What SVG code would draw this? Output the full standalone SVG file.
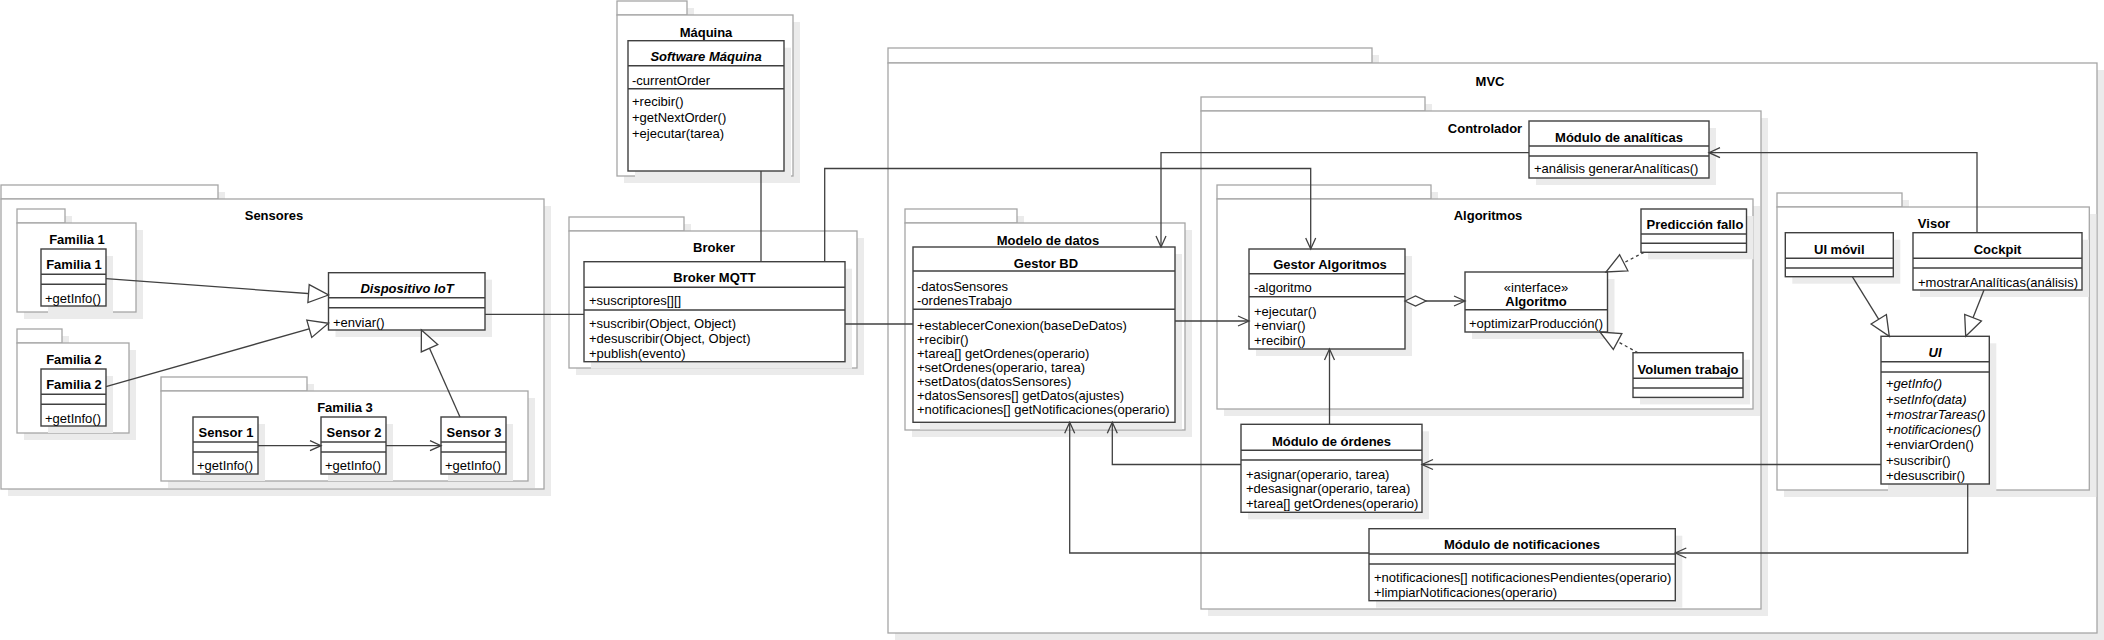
<svg xmlns="http://www.w3.org/2000/svg" width="2104" height="640" viewBox="0 0 2104 640">
<style>
.pkg{fill:#fff;stroke:#a6a6a6;stroke-width:1.3}
.cls{fill:#fff;stroke:#404040;stroke-width:1.4}
.dv{stroke:#404040;stroke-width:1.4}
.sh{fill:#ebebeb}
text{font-family:"Liberation Sans",Arial,sans-serif;font-size:13px;fill:#000}
.b{font-weight:bold}
.c{text-anchor:middle}
.i{font-style:italic}
.e{fill:none;stroke:#404040;stroke-width:1.3}
.d{stroke-dasharray:3 3}
</style>
<defs>
<marker id="gen" markerUnits="userSpaceOnUse" markerWidth="22" markerHeight="20" refX="20" refY="9" orient="auto" overflow="visible">
<path d="M0,0 L20,9 L0,18 Z" fill="#fff" stroke="#404040" stroke-width="1.3" stroke-dasharray="none"/>
</marker>
<marker id="open" markerUnits="userSpaceOnUse" markerWidth="12" markerHeight="12" refX="11" refY="5" orient="auto" overflow="visible">
<path d="M0,0 L11,5 L0,10" fill="none" stroke="#404040" stroke-width="1.3"/>
</marker>
<marker id="dia" markerUnits="userSpaceOnUse" markerWidth="22" markerHeight="12" refX="0" refY="5" orient="auto" overflow="visible">
<path d="M0,5 L10.5,0 L21,5 L10.5,10 Z" fill="#fff" stroke="#404040" stroke-width="1.3"/>
</marker>
</defs>

<g id="pkg-sensores">
<rect class="sh" x="8" y="192" width="217" height="14"/><rect class="sh" x="8" y="206" width="543" height="290"/>
<rect class="pkg" x="1" y="185" width="217" height="14"/><rect class="pkg" x="1" y="199" width="543" height="290"/>
<text class="b c" x="274" y="220">Sensores</text>
<g id="pkg-familia1">
<rect class="sh" x="24" y="216" width="48" height="14"/><rect class="sh" x="24" y="230" width="119" height="89"/>
<rect class="pkg" x="17" y="209" width="48" height="14"/><rect class="pkg" x="17" y="223" width="119" height="89"/>
<text class="b c" x="77" y="244">Familia 1</text>
<g id="familia1">
<rect class="sh" x="48" y="256" width="65" height="57"/>
<rect class="cls" x="41" y="249" width="65" height="57"/>
<line class="dv" x1="41" y1="274.3" x2="106" y2="274.3"/><line class="dv" x1="41" y1="284.3" x2="106" y2="284.3"/>
<text class="b c" x="74" y="269">Familia 1</text>
<text x="45" y="302.5">+getInfo()</text>
</g>
</g>
<g id="pkg-familia2">
<rect class="sh" x="24" y="336" width="45" height="14"/><rect class="sh" x="24" y="350" width="112" height="90"/>
<rect class="pkg" x="17" y="329" width="45" height="14"/><rect class="pkg" x="17" y="343" width="112" height="90"/>
<text class="b c" x="74" y="364">Familia 2</text>
<g id="familia2">
<rect class="sh" x="48" y="376" width="65" height="57"/>
<rect class="cls" x="41" y="369" width="65" height="57"/>
<line class="dv" x1="41" y1="394.3" x2="106" y2="394.3"/><line class="dv" x1="41" y1="404.3" x2="106" y2="404.3"/>
<text class="b c" x="74" y="388.5">Familia 2</text>
<text x="45" y="422.5">+getInfo()</text>
</g>
</g>
<g id="pkg-familia3">
<rect class="sh" x="168" y="384" width="146" height="14"/><rect class="sh" x="168" y="398" width="367" height="90"/>
<rect class="pkg" x="161" y="377" width="146" height="14"/><rect class="pkg" x="161" y="391" width="367" height="90"/>
<text class="b c" x="345" y="412">Familia 3</text>
<g id="sensor1">
<rect class="sh" x="200" y="424" width="65" height="57"/>
<rect class="cls" x="193" y="417" width="65" height="57"/>
<line class="dv" x1="193" y1="442" x2="258" y2="442"/><line class="dv" x1="193" y1="452" x2="258" y2="452"/>
<text class="b c" x="226" y="437">Sensor 1</text>
<text x="197" y="470">+getInfo()</text>
</g>
<g id="sensor2">
<rect class="sh" x="328" y="424" width="65" height="57"/>
<rect class="cls" x="321" y="417" width="65" height="57"/>
<line class="dv" x1="321" y1="442" x2="386" y2="442"/><line class="dv" x1="321" y1="452" x2="386" y2="452"/>
<text class="b c" x="354" y="437">Sensor 2</text>
<text x="325" y="470">+getInfo()</text>
</g>
<g id="sensor3">
<rect class="sh" x="448" y="424" width="65" height="57"/>
<rect class="cls" x="441" y="417" width="65" height="57"/>
<line class="dv" x1="441" y1="442" x2="506" y2="442"/><line class="dv" x1="441" y1="452" x2="506" y2="452"/>
<text class="b c" x="474" y="437">Sensor 3</text>
<text x="445" y="470">+getInfo()</text>
</g>
</g>
<g id="dispositivo-iot">
<rect class="sh" x="335.5" y="279.7" width="156.5" height="57.3"/>
<rect class="cls" x="328.5" y="272.7" width="156.5" height="57.3"/>
<line class="dv" x1="328.5" y1="297.7" x2="485" y2="297.7"/><line class="dv" x1="328.5" y1="307.7" x2="485" y2="307.7"/>
<text class="b c i" x="407" y="293">Dispositivo IoT</text>
<text x="333" y="326.5">+enviar()</text>
</g>
</g>

<g id="pkg-maquina">
<rect class="sh" x="624" y="8" width="70" height="14"/><rect class="sh" x="624" y="22" width="176" height="161"/>
<rect class="pkg" x="617" y="1" width="70" height="14"/><rect class="pkg" x="617" y="15" width="176" height="161"/>
<text class="b c" x="706" y="36.5">Máquina</text>
<g id="software-maquina">
<rect class="sh" x="635" y="47.7" width="156" height="130.3"/>
<rect class="cls" x="628" y="40.7" width="156" height="130.3"/>
<line class="dv" x1="628" y1="65.7" x2="784" y2="65.7"/><line class="dv" x1="628" y1="88.7" x2="784" y2="88.7"/>
<text class="b c i" x="706" y="61">Software Máquina</text>
<text x="632" y="84.5">-currentOrder</text>
<text x="632" y="106">+recibir()</text>
<text x="632" y="122">+getNextOrder()</text>
<text x="632" y="138">+ejecutar(tarea)</text>
</g>
</g>

<g id="pkg-broker">
<rect class="sh" x="576" y="224" width="115" height="14"/><rect class="sh" x="576" y="238" width="288" height="137"/>
<rect class="pkg" x="569" y="217" width="115" height="14"/><rect class="pkg" x="569" y="231" width="288" height="137"/>
<text class="b c" x="714" y="252">Broker</text>
<g id="broker-mqtt">
<rect class="sh" x="591" y="268.7" width="261" height="100"/>
<rect class="cls" x="584" y="261.7" width="261" height="100"/>
<line class="dv" x1="584" y1="287.3" x2="845" y2="287.3"/><line class="dv" x1="584" y1="310" x2="845" y2="310"/>
<text class="b c" x="714.5" y="282">Broker MQTT</text>
<text x="589" y="305">+suscriptores[][]</text>
<text x="589" y="327.5">+suscribir(Object, Object)</text>
<text x="589" y="342.5">+desuscribir(Object, Object)</text>
<text x="589" y="357.5">+publish(evento)</text>
</g>
</g>

<g id="pkg-mvc">
<rect class="sh" x="895" y="55" width="484" height="15"/><rect class="sh" x="895" y="70" width="1209" height="570"/>
<rect class="pkg" x="888" y="48" width="484" height="15"/><rect class="pkg" x="888" y="63" width="1209" height="570"/>
<text class="b c" x="1490" y="85.5">MVC</text>

<g id="pkg-modelo-datos">
<rect class="sh" x="912" y="216" width="112" height="14"/><rect class="sh" x="912" y="230" width="280" height="207"/>
<rect class="pkg" x="905" y="209" width="112" height="14"/><rect class="pkg" x="905" y="223" width="280" height="207"/>
<text class="b c" x="1048" y="244.5">Modelo de datos</text>
<g id="gestor-bd">
<rect class="sh" x="920" y="254" width="262" height="175.3"/>
<rect class="cls" x="913" y="247" width="262" height="175.3"/>
<line class="dv" x1="913" y1="271" x2="1175" y2="271"/><line class="dv" x1="913" y1="309.3" x2="1175" y2="309.3"/>
<text class="b c" x="1046" y="268">Gestor BD</text>
<text x="917" y="290.5">-datosSensores</text>
<text x="917" y="304.5">-ordenesTrabajo</text>
<text x="917" y="329.8">+establecerConexion(baseDeDatos)</text>
<text x="917" y="343.9">+recibir()</text>
<text x="917" y="358">+tarea[] getOrdenes(operario)</text>
<text x="917" y="372.1">+setOrdenes(operario, tarea)</text>
<text x="917" y="386.2">+setDatos(datosSensores)</text>
<text x="917" y="400.3">+datosSensores[] getDatos(ajustes)</text>
<text x="917" y="414.4">+notificaciones[] getNotificaciones(operario)</text>
</g>
</g>

<g id="pkg-controlador">
<rect class="sh" x="1208" y="104" width="224" height="14"/><rect class="sh" x="1208" y="118" width="560" height="498"/>
<rect class="pkg" x="1201" y="97" width="224" height="14"/><rect class="pkg" x="1201" y="111" width="560" height="498"/>
<text class="b c" x="1485" y="133">Controlador</text>
<g id="modulo-analiticas">
<rect class="sh" x="1536" y="128" width="180" height="57"/>
<rect class="cls" x="1529" y="121" width="180" height="57"/>
<line class="dv" x1="1529" y1="146" x2="1709" y2="146"/><line class="dv" x1="1529" y1="156" x2="1709" y2="156"/>
<text class="b c" x="1619" y="141.8">Módulo de analíticas</text>
<text x="1534" y="172.5">+análisis generarAnalíticas()</text>
</g>
<g id="pkg-algoritmos">
<rect class="sh" x="1224" y="192" width="214" height="14"/><rect class="sh" x="1224" y="206" width="536" height="210"/>
<rect class="pkg" x="1217" y="185" width="214" height="14"/><rect class="pkg" x="1217" y="199" width="536" height="210"/>
<text class="b c" x="1488" y="220">Algoritmos</text>
<g id="gestor-algoritmos">
<rect class="sh" x="1256" y="256" width="156" height="100"/>
<rect class="cls" x="1249" y="249" width="156" height="100"/>
<line class="dv" x1="1249" y1="273.7" x2="1405" y2="273.7"/><line class="dv" x1="1249" y1="296.7" x2="1405" y2="296.7"/>
<text class="b c" x="1330" y="269">Gestor Algoritmos</text>
<text x="1254" y="292">-algoritmo</text>
<text x="1254" y="316">+ejecutar()</text>
<text x="1254" y="330.3">+enviar()</text>
<text x="1254" y="344.6">+recibir()</text>
</g>
<g id="algoritmo">
<rect class="sh" x="1472" y="279" width="142.5" height="60"/>
<rect class="cls" x="1465" y="272" width="142.5" height="60"/>
<line class="dv" x1="1465" y1="309.7" x2="1607.5" y2="309.7"/>
<text class="c" x="1536" y="291.5">«interface»</text>
<text class="b c" x="1536" y="305.5">Algoritmo</text>
<text x="1469" y="328">+optimizarProducción()</text>
</g>
<g id="prediccion-fallo">
<rect class="sh" x="1648" y="216" width="105.5" height="43.3"/>
<rect class="cls" x="1641" y="209" width="105.5" height="43.3"/>
<line class="dv" x1="1641" y1="234" x2="1746.5" y2="234"/><line class="dv" x1="1641" y1="243.3" x2="1746.5" y2="243.3"/>
<text class="b c" x="1695" y="229">Predicción fallo</text>
</g>
<g id="volumen-trabajo">
<rect class="sh" x="1640" y="359.7" width="110" height="44.7"/>
<rect class="cls" x="1633" y="352.7" width="110" height="44.7"/>
<line class="dv" x1="1633" y1="378.3" x2="1743" y2="378.3"/><line class="dv" x1="1633" y1="388" x2="1743" y2="388"/>
<text class="b c" x="1688" y="373.5">Volumen trabajo</text>
</g>
</g>
<g id="modulo-ordenes">
<rect class="sh" x="1248" y="431.3" width="181" height="88"/>
<rect class="cls" x="1241" y="424.3" width="181" height="88"/>
<line class="dv" x1="1241" y1="450.3" x2="1422" y2="450.3"/><line class="dv" x1="1241" y1="460" x2="1422" y2="460"/>
<text class="b c" x="1331.5" y="445.5">Módulo de órdenes</text>
<text x="1246" y="478.5">+asignar(operario, tarea)</text>
<text x="1246" y="493.2">+desasignar(operario, tarea)</text>
<text x="1246" y="507.8">+tarea[] getOrdenes(operario)</text>
</g>
<g id="modulo-notificaciones">
<rect class="sh" x="1376" y="535.7" width="306.3" height="72"/>
<rect class="cls" x="1369" y="528.7" width="306.3" height="72"/>
<line class="dv" x1="1369" y1="554" x2="1675.3" y2="554"/><line class="dv" x1="1369" y1="564" x2="1675.3" y2="564"/>
<text class="b c" x="1522" y="548.8">Módulo de notificaciones</text>
<text x="1374" y="582.2">+notificaciones[] notificacionesPendientes(operario)</text>
<text x="1374" y="596.8">+limpiarNotificaciones(operario)</text>
</g>
</g>

<g id="pkg-visor">
<rect class="sh" x="1784" y="200" width="125" height="14"/><rect class="sh" x="1784" y="214" width="312.3" height="283"/>
<rect class="pkg" x="1777" y="193" width="125" height="14"/><rect class="pkg" x="1777" y="207" width="312.3" height="283"/>
<text class="b c" x="1934" y="228.2">Visor</text>
<g id="ui-movil">
<rect class="sh" x="1792.3" y="239.7" width="108" height="44"/>
<rect class="cls" x="1785.3" y="232.7" width="108" height="44"/>
<line class="dv" x1="1785.3" y1="258.3" x2="1893.3" y2="258.3"/><line class="dv" x1="1785.3" y1="268" x2="1893.3" y2="268"/>
<text class="b c" x="1839.3" y="253.5">UI móvil</text>
</g>
<g id="cockpit">
<rect class="sh" x="1920" y="239.7" width="169" height="57.3"/>
<rect class="cls" x="1913" y="232.7" width="169" height="57.3"/>
<line class="dv" x1="1913" y1="258.3" x2="2082" y2="258.3"/><line class="dv" x1="1913" y1="268" x2="2082" y2="268"/>
<text class="b c" x="1997.5" y="253.5">Cockpit</text>
<text x="1918" y="286.5">+mostrarAnalíticas(análisis)</text>
</g>
<g id="ui">
<rect class="sh" x="1888" y="343.3" width="108.3" height="147.7"/>
<rect class="cls" x="1881" y="336.3" width="108.3" height="147.7"/>
<line class="dv" x1="1881" y1="361.7" x2="1989.3" y2="361.7"/><line class="dv" x1="1881" y1="372" x2="1989.3" y2="372"/>
<text class="b c i" x="1935" y="357.2">UI</text>
<text x="1886" y="388.2">+<tspan class="i">getInfo()</tspan></text>
<text x="1886" y="403.5">+<tspan class="i">setInfo(data)</tspan></text>
<text x="1886" y="418.8">+<tspan class="i">mostrarTareas()</tspan></text>
<text x="1886" y="434.1">+<tspan class="i">notificaciones()</tspan></text>
<text x="1886" y="449.4">+enviarOrden()</text>
<text x="1886" y="464.7">+suscribir()</text>
<text x="1886" y="480">+desuscribir()</text>
</g>
</g>
</g>

<g id="connectors">
<path class="e" d="M106,278.7 L328.5,295" marker-end="url(#gen)"/>
<path class="e" d="M106,386.7 L328.5,323.3" marker-end="url(#gen)"/>
<path class="e" d="M460,417 L421.4,330" marker-end="url(#gen)"/>
<path class="e" d="M258,445.7 L321,445.7" marker-end="url(#open)"/>
<path class="e" d="M386,445.7 L441,445.7" marker-end="url(#open)"/>
<path class="e" d="M485,314.3 L584,314.3"/>
<path class="e" d="M761,171 L761,261.7"/>
<path class="e" d="M845,324 L913,324"/>
<path class="e" d="M824.7,261.7 L824.7,168.5 L1310.7,168.5 L1310.7,249" marker-end="url(#open)"/>
<path class="e" d="M1175,321 L1249,321" marker-end="url(#open)"/>
<path class="e" d="M1529,152.7 L1161,152.7 L1161,247" marker-end="url(#open)"/>
<path class="e" d="M1977,232.7 L1977,152.7 L1709,152.7" marker-end="url(#open)"/>
<path class="e" d="M1329.5,424.3 L1329.5,349" marker-end="url(#open)"/>
<path class="e" d="M1405,301 L1465,301" marker-start="url(#dia)" marker-end="url(#open)"/>
<path class="e d" d="M1644,252.3 L1606,272" marker-end="url(#gen)"/>
<path class="e d" d="M1638,352.7 L1600,332" marker-end="url(#gen)"/>
<path class="e" d="M1881,464.5 L1422,464.5" marker-end="url(#open)"/>
<path class="e" d="M1967.7,484 L1967.7,553 L1675.3,553" marker-end="url(#open)"/>
<path class="e" d="M1241,464.5 L1112.3,464.5 L1112.3,422.3" marker-end="url(#open)"/>
<path class="e" d="M1369,553 L1069.7,553 L1069.7,422.3" marker-end="url(#open)"/>
<path class="e" d="M1852.3,276.7 L1889.3,336.3" marker-end="url(#gen)"/>
<path class="e" d="M1984,290 L1965.7,336.3" marker-end="url(#gen)"/>
</g>
</svg>
